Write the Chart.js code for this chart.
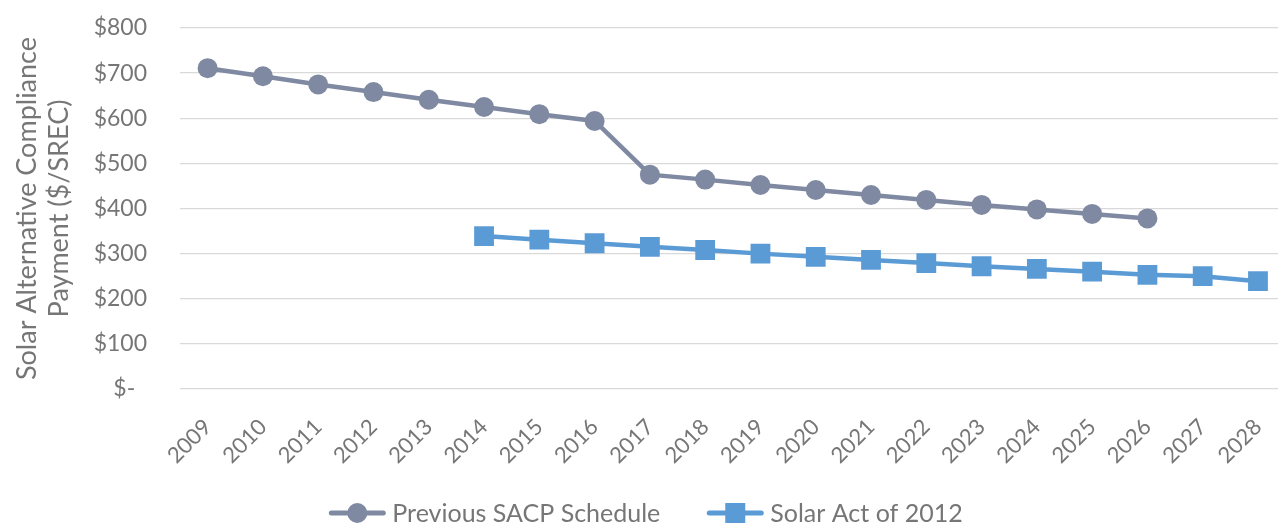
<!DOCTYPE html>
<html>
<head>
<meta charset="utf-8">
<script src="https://cdn.jsdelivr.net/npm/chart.js@4.4.0/dist/chart.umd.min.js"></script>
<style>
  html, body { margin: 0; padding: 0; background: #fff; overflow: hidden; }
  #wrap { width: 1302px; height: 525px; }
</style>
</head>
<body>
<div id="wrap"><canvas id="sacpChart" width="1302" height="525"></canvas></div>
<script>
// Chart data
const years = ['2009', '2010', '2011', '2012', '2013', '2014', '2015', '2016', '2017', '2018',
    '2019', '2020', '2021', '2022', '2023', '2024', '2025', '2026', '2027', '2028'];
const previousSacp = [711, 693, 675, 658, 641, 625, 609, 594, 475, 464,
    452, 441, 430, 419, 408, 398, 388, 378, null, null];
const solarAct2012 = [null, null, null, null, null, 339, 331, 323, 315, 308,
    300, 293, 286, 279, 272, 266, 260, 253, 250, 239];
const yTicks = [0, 100, 200, 300, 400, 500, 600, 700, 800];

const GRAY = '#7f89a1';
const BLUE = '#5b9bd5';
const TEXT = '#767676';
const FONT = 'Lato, "Open Sans", sans-serif';

// Bottom legend: short line with the marker on it, then the label
const lineLegend = {
    id: 'lineLegend',
    afterDraw(chart) {
        const ctx = chart.ctx;
        const y = 513;
        const iconW = 56;
        const gapText = 7;
        const gapItem = 47;
        ctx.save();
        ctx.font = '25px ' + FONT;
        const items = chart.data.datasets.map(ds => ({
            ds: ds,
            w: ctx.measureText(ds.label).width
        }));
        let total = 0;
        items.forEach((it, i) => {
            total += iconW + gapText + it.w + (i ? gapItem : 0);
        });
        let x = 646 - total / 2;
        items.forEach((it, i) => {
            if (i) x += gapItem;
            const color = it.ds.borderColor;
            ctx.strokeStyle = color;
            ctx.fillStyle = color;
            ctx.lineWidth = 5;
            ctx.lineCap = 'round';
            ctx.beginPath();
            ctx.moveTo(x + 2, y);
            ctx.lineTo(x + iconW - 2, y);
            ctx.stroke();
            const cx = x + iconW / 2;
            if (it.ds.pointStyle === 'circle') {
                ctx.beginPath();
                ctx.arc(cx, y, 10, 0, Math.PI * 2);
                ctx.fill();
            } else {
                ctx.fillRect(cx - 10, y - 10, 20, 20);
            }
            x += iconW + gapText;
            ctx.fillStyle = TEXT;
            ctx.textBaseline = 'middle';
            ctx.textAlign = 'left';
            ctx.fillText(it.ds.label, x, y + 1);
            x += it.w;
        });
        ctx.restore();
    }
};

new Chart(document.getElementById('sacpChart'), {
    type: 'line',
    data: {
        labels: years,
        datasets: [{
            label: 'Previous SACP Schedule',
            data: previousSacp,
            borderColor: GRAY,
            backgroundColor: GRAY,
            borderWidth: 4.5,
            pointStyle: 'circle',
            pointRadius: 10,
            pointHoverRadius: 10,
            pointBorderWidth: 0,
            tension: 0
        }, {
            label: 'Solar Act of 2012',
            data: solarAct2012,
            borderColor: BLUE,
            backgroundColor: BLUE,
            borderWidth: 4.5,
            pointStyle: 'rect',
            pointRadius: 14,
            pointHoverRadius: 14,
            pointBorderWidth: 0,
            tension: 0
        }]
    },
    options: {
        responsive: false,
        animation: false,
        layout: { padding: { top: 28, left: 0, right: 0, bottom: 0 } },
        plugins: {
            tooltip: { enabled: false },
            legend: { display: false }
        },
        scales: {
            x: {
                offset: true,
                grid: { display: false, drawTicks: false },
                border: { display: false },
                ticks: {
                    color: TEXT,
                    font: { family: FONT, size: 22 },
                    minRotation: 45,
                    maxRotation: 45,
                    padding: 25,
                    autoSkip: false
                },
                afterFit(scale) {
                    scale.height = 136;
                }
            },
            y: {
                min: 0,
                max: 800,
                afterBuildTicks(scale) {
                    scale.ticks = yTicks.map(v => ({ value: v }));
                },
                grid: { color: '#d9d9d9', lineWidth: 1.3, drawTicks: false },
                border: { display: false },
                ticks: {
                    color: TEXT,
                    font: { family: FONT, size: 23 },
                    padding: 33,
                    callback: v => v === 0 ? '$-  ' : '$' + v
                },
                title: {
                    display: true,
                    text: ['Solar Alternative Compliance', 'Payment ($/SREC)'],
                    color: TEXT,
                    font: { family: FONT, size: 27, lineHeight: 1.19 },
                    padding: { top: 11, bottom: 0 }
                },
                afterFit(scale) {
                    scale.width = 180;
                    scale.paddingTop = 0;
                    scale.paddingBottom = 0;
                }
            }
        }
    },
    plugins: [lineLegend]
});
</script>
</body>
</html>
